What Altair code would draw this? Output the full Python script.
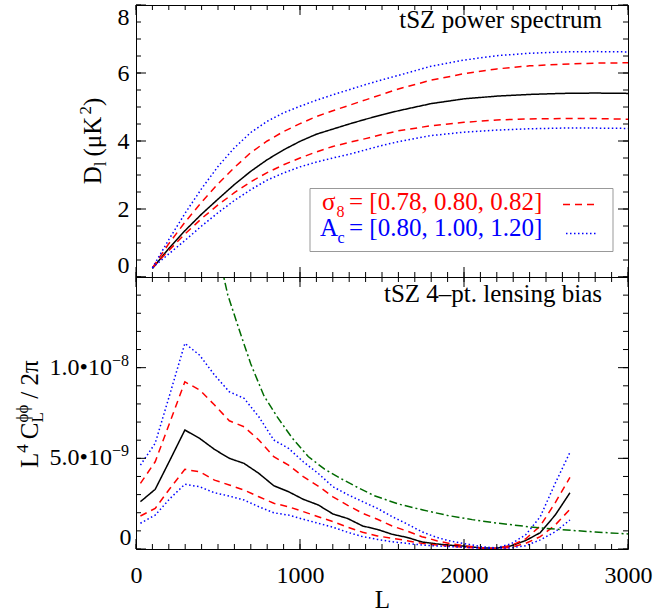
import altair as alt
import pandas as pd

FONT = "Liberation Serif"
NB = "\u00a0"

# ---------------- top panel: tSZ power spectrum ----------------
L_top = [100, 200, 300, 400, 500, 600, 700, 800, 900, 1000, 1100, 1200, 1300,
         1400, 1500, 1600, 1800, 2000, 2200, 2400, 2600, 2800, 3000]
D_mid = [0.25, 0.84, 1.37, 1.85, 2.29, 2.72, 3.11, 3.45, 3.74, 3.99, 4.20, 4.35, 4.50,
         4.64, 4.77, 4.89, 5.10, 5.24, 5.32, 5.37, 5.40, 5.41, 5.40]
D_s8_hi = [0.27, 0.98, 1.62, 2.20, 2.74, 3.22, 3.66, 4.00, 4.28, 4.51, 4.72, 4.89, 5.05,
           5.21, 5.37, 5.53, 5.79, 5.98, 6.12, 6.21, 6.26, 6.29, 6.30]
D_s8_lo = [0.27, 0.78, 1.27, 1.72, 2.12, 2.48, 2.80, 3.07, 3.30, 3.50, 3.68, 3.84, 3.96,
           4.07, 4.19, 4.30, 4.45, 4.55, 4.62, 4.65, 4.66, 4.66, 4.64]
D_ac_hi = [0.27, 1.10, 1.88, 2.60, 3.25, 3.80, 4.25, 4.58, 4.83, 5.02, 5.20, 5.36, 5.51,
           5.66, 5.80, 5.93, 6.20, 6.38, 6.51, 6.58, 6.62, 6.63, 6.62]
D_ac_lo = [0.27, 0.68, 1.08, 1.50, 1.89, 2.25, 2.57, 2.85, 3.06, 3.24, 3.38, 3.50, 3.61,
           3.74, 3.87, 3.98, 4.16, 4.26, 4.32, 4.36, 4.38, 4.38, 4.37]

# ---------------- bottom panel: 4-pt lensing bias (units of 1e-9) ----------------
L_bot = [27, 117, 208, 298, 388, 479, 569, 659, 749, 840, 930, 1020, 1111, 1201, 1291,
         1382, 1472, 1562, 1653, 1743, 1833, 1924, 2014, 2104, 2194, 2285, 2375, 2465, 2556, 2646]
B_mid = [2.61, 3.29, 4.92, 6.56, 6.10, 5.49, 5.00, 4.72, 4.17, 3.49, 3.16, 2.74, 2.43, 1.93, 1.68,
         1.27, 1.08, 0.81, 0.64, 0.39, 0.28, 0.20, 0.15, 0.06, 0.04, 0.17, 0.46, 0.90, 1.87, 3.10]
B_ac_hi = [4.63, 5.83, 8.58, 11.34, 10.69, 9.59, 8.67, 8.31, 7.29, 6.01, 5.55, 4.81, 4.17, 3.43, 3.00,
           2.61, 2.24, 1.78, 1.38, 0.95, 0.64, 0.42, 0.28, 0.13, 0.06, 0.28, 0.77, 1.78, 3.62, 5.33]
B_s8_hi = [3.62, 4.81, 7.02, 9.22, 8.77, 7.94, 7.07, 6.74, 6.01, 5.09, 4.63, 3.99, 3.47, 2.88, 2.41,
           1.97, 1.64, 1.27, 0.99, 0.68, 0.46, 0.28, 0.17, 0.06, 0.04, 0.18, 0.55, 1.27, 2.55, 3.95]
B_s8_lo = [1.82, 2.24, 3.35, 4.39, 4.26, 3.80, 3.53, 3.25, 2.88, 2.52, 2.33, 2.06, 1.78, 1.51, 1.20,
           0.92, 0.72, 0.59, 0.46, 0.31, 0.22, 0.15, 0.09, 0.04, 0.02, 0.09, 0.31, 0.68, 1.32, 2.19]
B_ac_lo = [1.42, 1.87, 2.79, 3.57, 3.43, 3.10, 2.92, 2.70, 2.33, 2.00, 1.87, 1.64, 1.42, 1.20, 0.92,
           0.68, 0.53, 0.40, 0.31, 0.22, 0.17, 0.13, 0.09, 0.04, 0.02, 0.06, 0.18, 0.50, 0.95, 1.60]
G_L = [500, 535, 560, 600, 640, 700, 780, 860, 950, 1050, 1150, 1250, 1350, 1450, 1600,
       1750, 1900, 2050, 2200, 2400, 2600, 2800, 3000]
G_v = [16.4, 15.0, 14.0, 12.9, 11.8, 10.2, 8.45, 7.3, 6.15, 5.1, 4.4, 3.88, 3.40, 2.95, 2.48,
       2.15, 1.85, 1.62, 1.43, 1.22, 1.06, 0.94, 0.83]

# ---------------- ticks and tick labels ----------------
X_MAJOR = [0, 1000, 2000, 3000]
X_MINOR = list(range(0, 3001, 100))
YT_MAJOR = [0, 2, 4, 6, 8]
YT_MINOR = [i * 0.5 for i in range(17)]
YB_MAJOR = [0, 5, 10, 15]
YB_MINOR = list(range(16))
YB_EXP_VALUES = [5, 10]
YB_EXP_MANT = ["5.0•10", "1.0•10"]
YB_EXP_POW = ["−9", "−8"]

GROUPS = ["mid", "sigma8", "Ac", "noise"]
COLORS = ["black", "#ff0000", "#0000ff", "#006a00"]
DASHES = [[1, 0], [7, 5], [1.5, 2.5], [8, 3, 2, 3]]

W, H = 492, 272


def long_df(L, series):
    rows = []
    for name, grp, vals in series:
        for l, v in zip(L, vals):
            rows.append({"L": l, "v": v, "series": name, "grp": grp})
    return rows


top_df = pd.DataFrame(long_df(L_top, [
    ("mid", "mid", D_mid), ("s8_hi", "sigma8", D_s8_hi), ("s8_lo", "sigma8", D_s8_lo),
    ("ac_hi", "Ac", D_ac_hi), ("ac_lo", "Ac", D_ac_lo)]))
bot_df = pd.DataFrame(long_df(L_bot, [
    ("mid", "mid", B_mid), ("s8_hi", "sigma8", B_s8_hi), ("s8_lo", "sigma8", B_s8_lo),
    ("ac_hi", "Ac", B_ac_hi), ("ac_lo", "Ac", B_ac_lo)]) + long_df(G_L, [("noise", "noise", G_v)]))

one = pd.DataFrame({"a": [0]})


def txt(s, x, y, size=25, color="black", angle=0, align="left"):
    return alt.Chart(one).mark_text(
        text=s, font=FONT, fontSize=size, color=color, angle=angle, align=align,
        baseline="alphabetic").encode(x=alt.value(x), y=alt.value(y))


def tick_rules(xs, ys, y_major, y_minor):
    layers = []
    for vals, ln in [(X_MAJOR, 10), (X_MINOR, 5)]:
        d = pd.DataFrame({"t": vals})
        for y1, y2 in [(H, H - ln), (0, ln)]:
            layers.append(alt.Chart(d).mark_rule(color="black", strokeWidth=1).encode(
                x=alt.X("t:Q", scale=xs, axis=None), y=alt.value(y1), y2=alt.value(y2)))
    for vals, ln in [(y_major, 10), (y_minor, 5)]:
        d = pd.DataFrame({"t": vals})
        for x1, x2 in [(0, ln), (W, W - ln)]:
            layers.append(alt.Chart(d).mark_rule(color="black", strokeWidth=1).encode(
                y=alt.Y("t:Q", scale=ys, axis=None), x=alt.value(x1), x2=alt.value(x2)))
    return layers


def scales(ydom):
    return (alt.Scale(domain=[0, 3000], nice=False, zero=False),
            alt.Scale(domain=ydom, nice=False, zero=False))


def panel(df, ydom, x_label_axis, y_label_axis, y_major, y_minor, extras):
    xs, ys = scales(ydom)
    lines = alt.Chart(df).mark_line(clip=True, strokeWidth=1.5).encode(
        x=alt.X("L:Q", scale=xs, axis=x_label_axis),
        y=alt.Y("v:Q", scale=ys, axis=y_label_axis),
        color=alt.Color("grp:N", scale=alt.Scale(domain=GROUPS, range=COLORS), legend=None),
        strokeDash=alt.StrokeDash("grp:N", scale=alt.Scale(domain=GROUPS, range=DASHES), legend=None),
        detail="series:N",
    )
    return alt.layer(lines, *tick_rules(xs, ys, y_major, y_minor), *extras).resolve_axis(
        x="independent", y="independent").properties(width=W, height=H)


# ---------- top panel extras ----------
top_extras = [
    txt("tSZ power spectrum", 466, 23, align="right"),
    alt.Chart(one).mark_rect(fill="white", stroke="#999999", strokeWidth=1).encode(
        x=alt.value(174), x2=alt.value(477), y=alt.value(183.5), y2=alt.value(246.5)),
    txt("σ", 186, 204.5, color="#ff0000"),
    txt("8", 200.5, 211.5, size=16, color="#ff0000"),
    txt("= [0.78, 0.80, 0.82]", 213, 204.5, color="#ff0000"),
    txt("A", 184, 231, color="#0000ff"),
    txt("c", 201.5, 238, size=16, color="#0000ff"),
    txt("= [0.80, 1.00, 1.20]", 213, 231, color="#0000ff"),
    alt.Chart(one).mark_rule(color="#ff0000", strokeDash=[7, 5], strokeWidth=1.5).encode(
        x=alt.value(427), x2=alt.value(460), y=alt.value(199.5)),
    alt.Chart(one).mark_rule(color="#0000ff", strokeDash=[1.5, 2.5], strokeWidth=1.5).encode(
        x=alt.value(430), x2=alt.value(460), y=alt.value(228.5)),
    # y title  D_l (μK^2)
    txt("D", -35, 179.3, angle=270),
    txt("l", -30, 161.2, size=17, angle=270),
    txt("(μK", -35, 151.5, angle=270),
    txt("2", -45, 109.6, size=17, angle=270),
    txt(")", -35, 101.1, angle=270),
]

# exponent-style tick labels for the bottom panel
_, ys_b = scales([0, 15])
exp_df = pd.DataFrame({"v": YB_EXP_VALUES, "mant": YB_EXP_MANT, "pw": YB_EXP_POW})
mant_layer = alt.Chart(exp_df).mark_text(
    font=FONT, fontSize=24, color="black", align="right", baseline="middle").encode(
    y=alt.Y("v:Q", scale=ys_b, axis=None), x=alt.value(-24), text="mant:N")
pow_layer = alt.Chart(exp_df).mark_text(
    font=FONT, fontSize=16, color="black", align="left", baseline="middle", dy=-7).encode(
    y=alt.Y("v:Q", scale=ys_b, axis=None), x=alt.value(-24), text="pw:N")

bot_extras = [
    txt("tSZ 4–pt. lensing bias", 466, 25, align="right"),
    mant_layer, pow_layer,
    # y title  L^4 C_L^φφ / 2π
    txt("L", -98, 191, angle=270),
    txt("4", -108, 175.7, size=17, angle=270),
    txt("C", -98, 162.2, angle=270),
    txt("ϕϕ", -108, 145.5, size=17, angle=270),
    txt("L", -93, 145.5, size=17, angle=270),
    txt("/" + NB + "2π", -98, 121.8, angle=270),
]

top_label_x = None
top_label_y = alt.Axis(orient="left", values=YT_MAJOR, ticks=False, domain=False, grid=False,
                       labelFlush=True, labelPadding=7, title=None, format="d", minExtent=0,
                       labelFont=FONT, labelFontSize=24, labelColor="black")
bot_label_x = alt.Axis(orient="bottom", values=X_MAJOR, ticks=False, domain=False, grid=False,
                       labelFlush=False, labelPadding=14, title="L", titlePadding=0,
                       format="d", minExtent=0,
                       labelFont=FONT, labelFontSize=24, labelColor="black",
                       titleFont=FONT, titleFontSize=25, titleFontWeight="normal", titleColor="black")
bot_label_y = alt.Axis(orient="left", values=[0], ticks=False, domain=False, grid=False,
                       labelFlush=True, labelPadding=5, title=None, minExtent=0, format="d",
                       labelFont=FONT, labelFontSize=24, labelColor="black")

top = panel(top_df, [0, 8], top_label_x, top_label_y, YT_MAJOR, YT_MINOR, top_extras)
bot = panel(bot_df, [0, 15], bot_label_x, bot_label_y, YB_MAJOR, YB_MINOR, bot_extras)

chart = alt.vconcat(top, bot, spacing=0, bounds="flush").properties(
    padding={"left": 13, "top": 4, "right": 0, "bottom": 0},
    background="white",
).configure_view(stroke="black", strokeWidth=1)

chart.save("out.html", embed_options={"renderer": "svg", "actions": False})
